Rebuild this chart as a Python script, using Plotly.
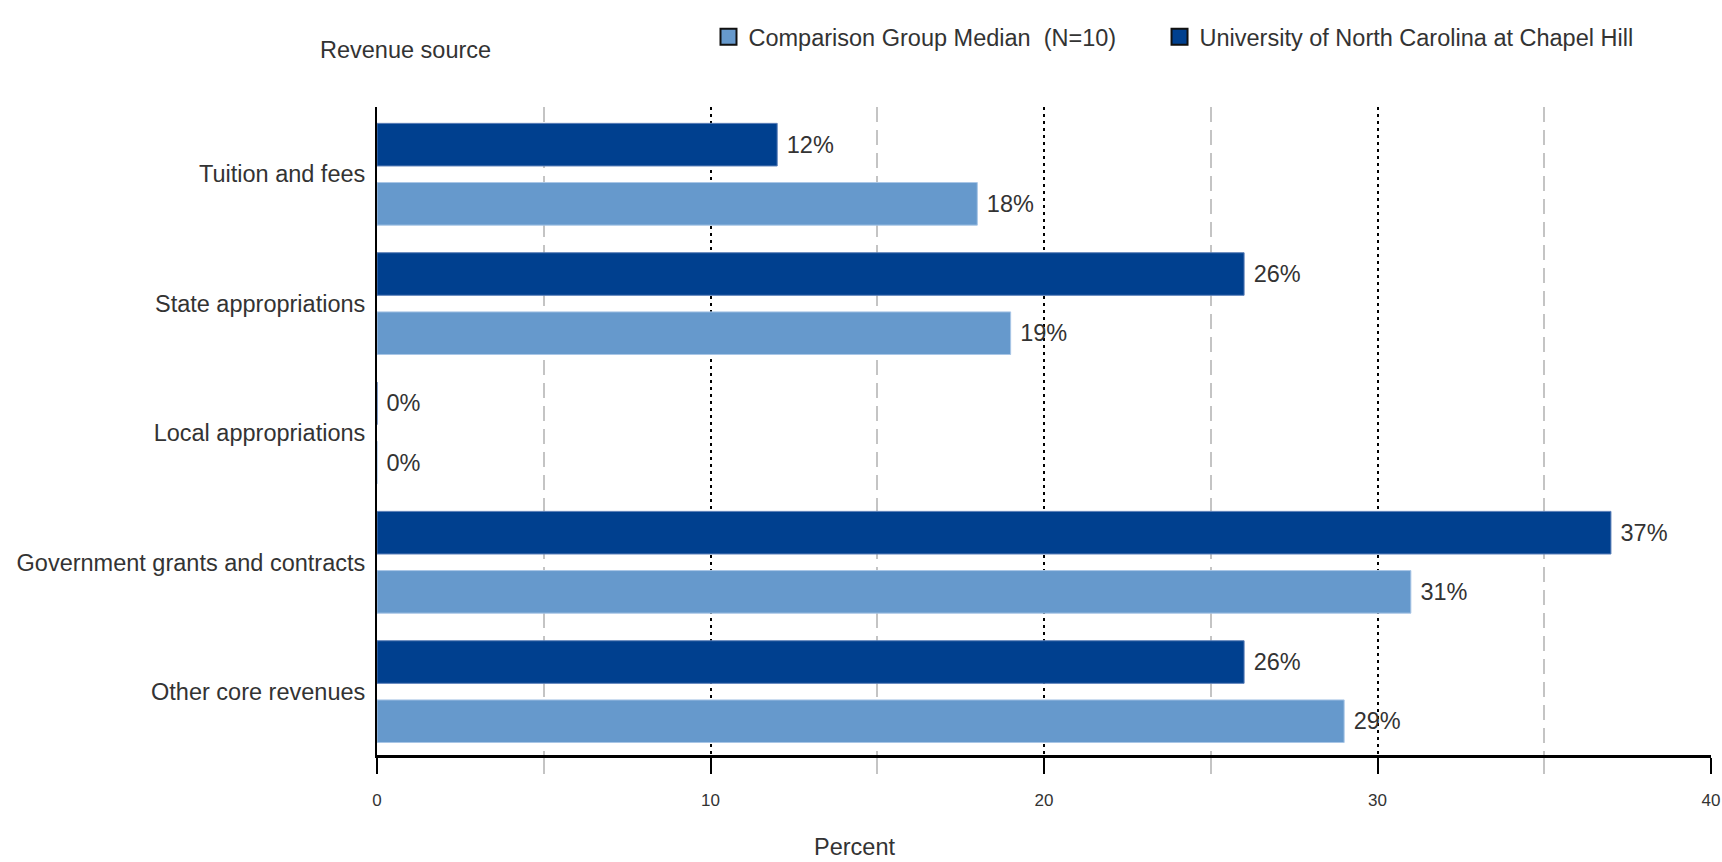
import plotly.graph_objects as go

categories = ["Tuition and fees", "State appropriations", "Local appropriations",
              "Government grants and contracts", "Other core revenues"]
comparison_median = [18, 19, 0, 31, 29]
unc_chapel_hill = [12, 26, 0, 37, 26]
series_names = ["Comparison Group Median  (N=10)", "University of North Carolina at Chapel Hill"]
x_ticks = [0, 10, 20, 30, 40]

FONT = "Liberation Sans, Arial, sans-serif"
TXT = "#333333"
DARK = "#00408F"
LIGHT = "#6699CC"
FS = 23.5

fig = go.Figure()
fig.add_trace(go.Bar(
    y=categories, x=unc_chapel_hill, orientation="h", name=series_names[1],
    marker=dict(color=DARK, line=dict(color="#5b7fb8", width=1)),
    text=[f"\u00a0{v}%" for v in unc_chapel_hill], textposition="outside",
    textfont=dict(family=FONT, size=FS, color=TXT), cliponaxis=False, showlegend=False,
))
fig.add_trace(go.Bar(
    y=categories, x=comparison_median, orientation="h", name=series_names[0],
    marker=dict(color=LIGHT, line=dict(color="#a9c6e6", width=1)),
    text=[f"\u00a0{v}%" for v in comparison_median], textposition="outside",
    textfont=dict(family=FONT, size=FS, color=TXT), cliponaxis=False, showlegend=False,
))
# legend entries (square swatches with dark border)
for nm, col, lg in [(series_names[0], LIGHT, "legend"), (series_names[1], DARK, "legend2")]:
    fig.add_trace(go.Scatter(
        x=[None], y=[None], mode="markers", name=nm, legend=lg,
        marker=dict(symbol="square", size=16, color=col, line=dict(color="#111111", width=2)),
    ))

legend_common = dict(orientation="h", xanchor="left", y=1.108, yanchor="middle",
                     font=dict(family=FONT, size=FS, color=TXT), itemclick=False,
                     itemsizing="trace", bgcolor="rgba(0,0,0,0)")

fig.update_layout(
    width=1722, height=862,
    margin=dict(l=377, r=11, t=106.5, b=106.5, autoexpand=False),
    paper_bgcolor="white", plot_bgcolor="white",
    barmode="group", bargap=0.085, bargroupgap=0.28,
    font=dict(family=FONT, size=FS, color=TXT),
    showlegend=True,
    legend=dict(x=0.2485, **legend_common),
    legend2=dict(x=0.5866, **legend_common),
    xaxis=dict(
        range=[0, 40], tickvals=x_ticks, ticktext=[str(t) for t in x_ticks],
        showgrid=True, gridcolor="#000000", gridwidth=1.5, griddash="3px,4px",
        showline=True, linecolor="#000000", linewidth=3,
        ticks="outside", ticklen=16, tickcolor="#000000", tickwidth=1.5,
        tickfont=dict(family=FONT, size=17, color=TXT), ticklabelstandoff=12,
        zeroline=False, automargin=False,
        minor=dict(tickvals=[5, 15, 25, 35], showgrid=True, gridcolor="#c4c4c4",
                   gridwidth=1.5, griddash="15px,8px", ticks="outside", ticklen=16,
                   tickcolor="#c4c4c4", tickwidth=1.5),
    ),
    yaxis=dict(
        range=[4.49, -0.52], showgrid=False, showline=True, linecolor="#000000",
        linewidth=2, ticks="", tickfont=dict(family=FONT, size=FS, color=TXT),
        ticklabelstandoff=5, automargin=False,
    ),
    annotations=[
        dict(text="Revenue source", xref="paper", yref="paper", x=0.0217, y=1.0886,
             xanchor="center", yanchor="middle", showarrow=False,
             font=dict(family=FONT, size=FS, color=TXT)),
        dict(text="Percent", xref="paper", yref="paper", x=0.358, y=-0.1425,
             xanchor="center", yanchor="middle", showarrow=False,
             font=dict(family=FONT, size=FS, color=TXT)),
    ],
)

fig.write_html(
    "out.html",
    config={"displayModeBar": False},
    post_script="document.body.style.margin='0';document.body.style.overflow='hidden';",
)
